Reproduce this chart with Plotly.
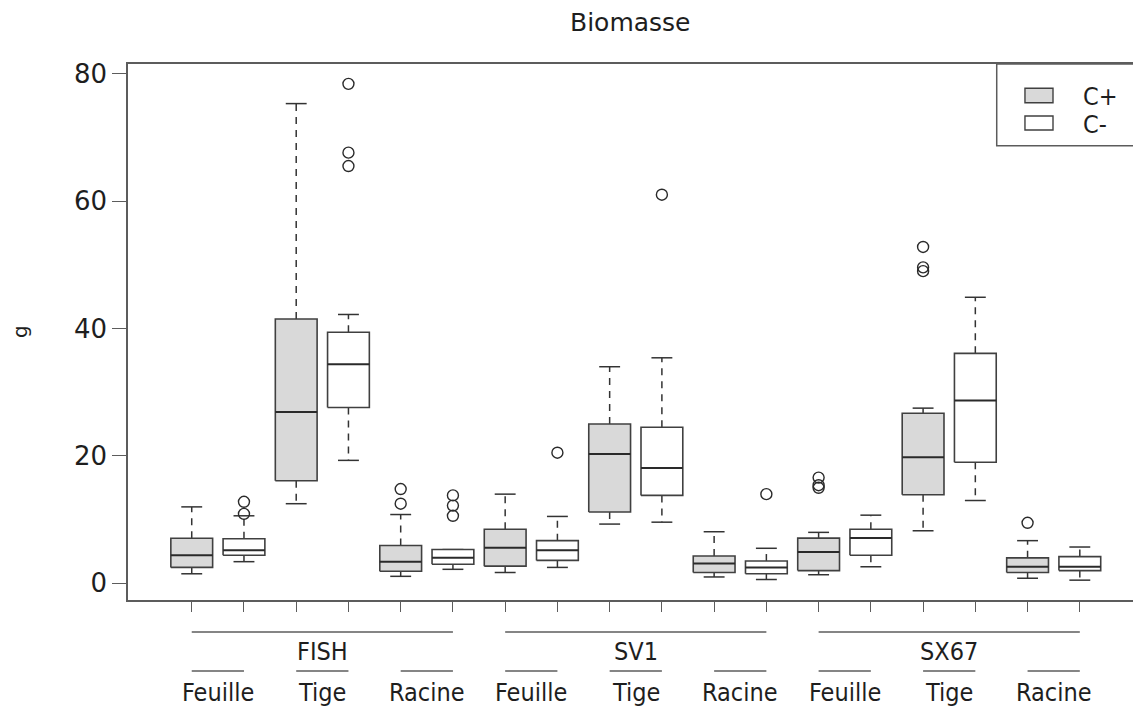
import plotly.graph_objects as go

# Boxplot of biomass (g) by variety, organ and treatment
groups = ["FISH", "SV1", "SX67"]
organs = ["Feuille", "Tige", "Racine"]
treatments = ["C+", "C-"]
treatment_fill = ["#d9d9d9", "#ffffff"]

# Five-number summaries, ordered FISH/Feuille/C+, FISH/Feuille/C-, FISH/Tige/C+, ...
whisker_low = [1.5, 3.4, 12.5, 19.3, 1.1, 2.2,
               1.7, 2.5, 9.3, 9.6, 1.0, 0.6,
               1.35, 2.6, 8.25, 13.0, 0.8, 0.5]
q1 = [2.5, 4.4, 16.1, 27.6, 1.9, 3.0,
      2.7, 3.6, 11.2, 13.8, 1.7, 1.5,
      2.0, 4.4, 13.9, 19.0, 1.7, 2.0]
median = [4.4, 5.2, 26.9, 34.4, 3.4, 4.0,
          5.6, 5.2, 20.3, 18.1, 3.1, 2.5,
          4.9, 7.1, 19.8, 28.7, 2.6, 2.6]
q3 = [7.07, 7.0, 41.5, 39.4, 5.95, 5.3,
      8.5, 6.7, 25.0, 24.5, 4.3, 3.5,
      7.1, 8.5, 26.7, 36.1, 4.0, 4.2]
whisker_high = [12.0, 10.6, 75.3, 42.2, 10.8, 5.3,
                14.0, 10.5, 34.0, 35.4, 8.1, 5.5,
                8.0, 10.7, 27.5, 44.9, 6.7, 5.7]
outliers = [[], [12.8, 10.9], [], [78.4, 67.6, 65.5], [14.8, 12.5], [13.8, 12.2, 10.6],
            [], [20.5], [], [61.0], [], [14.0],
            [16.6, 15.4, 15.0], [], [52.8, 49.6, 49.0], [], [9.5], []]

y_ticks = [0, 20, 40, 60, 80]

n = len(median)
pos = list(range(1, n + 1))
half_box = 0.4
half_staple = 0.2
box_line = "#404040"
frame_line = "#5c5c5c"
text_color = "#1e1e1e"
label_font = "Liberation Sans Narrow, DejaVu Sans Condensed, Arial Narrow, sans-serif"
wide_font = "DejaVu Sans, Verdana, sans-serif"

fig = go.Figure()

# whiskers (dashed) and staples
wx, wy, sx, sy = [], [], [], []
for i in range(n):
    x = pos[i]
    wx += [x, x, None, x, x, None]
    wy += [q3[i], whisker_high[i], None, q1[i], whisker_low[i], None]
    sx += [x - half_staple, x + half_staple, None, x - half_staple, x + half_staple, None]
    sy += [whisker_high[i], whisker_high[i], None, whisker_low[i], whisker_low[i], None]
fig.add_trace(go.Scatter(x=wx, y=wy, mode="lines", showlegend=False, hoverinfo="skip",
                         line=dict(color="#333333", width=1.5, dash="7px,6px")))
fig.add_trace(go.Scatter(x=sx, y=sy, mode="lines", showlegend=False, hoverinfo="skip",
                         line=dict(color="#333333", width=1.5)))

# boxes, one trace per treatment
for t, (name, fill) in enumerate(zip(treatments, treatment_fill)):
    bx, by = [], []
    for i in range(t, n, 2):
        x = pos[i]
        bx += [x - half_box, x + half_box, x + half_box, x - half_box, x - half_box, None]
        by += [q1[i], q1[i], q3[i], q3[i], q1[i], None]
    fig.add_trace(go.Scatter(x=bx, y=by, mode="lines", fill="toself", fillcolor=fill,
                             name=name, showlegend=False, hoverinfo="skip",
                             line=dict(color=box_line, width=1.6)))

# medians
mx, my = [], []
for i in range(n):
    mx += [pos[i] - half_box, pos[i] + half_box, None]
    my += [median[i], median[i], None]
fig.add_trace(go.Scatter(x=mx, y=my, mode="lines", showlegend=False, hoverinfo="skip",
                         line=dict(color="#2a2a2a", width=2.0)))

# outliers
ox, oy = [], []
for i in range(n):
    for v in outliers[i]:
        ox.append(pos[i])
        oy.append(v)
fig.add_trace(go.Scatter(x=ox, y=oy, mode="markers", showlegend=False,
                         marker=dict(symbol="circle-open", size=11, color="#2a2a2a",
                                     line=dict(color="#2a2a2a", width=1.4))))

# axis ranges padded by 4% like the base graphics defaults
all_vals = whisker_low + whisker_high + [v for o in outliers for v in o]
lo, hi = min(all_vals), max(all_vals)
pad = 0.04 * (hi - lo)
x_left = pos[0] - 0.5 - 0.04 * (n)
x_right = x_left + 1005 / 52.24

fig.update_layout(
    width=1133, height=707,
    margin=dict(l=128, r=0, t=64, b=107),
    paper_bgcolor="white", plot_bgcolor="white",
    xaxis=dict(range=[x_left, x_right], tickvals=pos, showticklabels=False,
               ticks="outside", ticklen=10, tickwidth=1.3, tickcolor=frame_line,
               showline=True, linecolor=frame_line, linewidth=1.5, mirror=True,
               showgrid=False, zeroline=False),
    yaxis=dict(range=[lo - pad, hi + pad], tickvals=y_ticks,
               ticks="outside", ticklen=14, tickwidth=1.3, tickcolor=frame_line,
               showline=True, linecolor=frame_line, linewidth=1.5,
               showgrid=False, zeroline=False,
               tickfont=dict(family=wide_font, size=26, color=text_color)),
    showlegend=False,
)

# title and y label
fig.add_annotation(text="Biomasse", xref="paper", yref="paper", x=0.5, y=1,
                   yshift=42, showarrow=False, yanchor="middle",
                   font=dict(family=wide_font, size=25, color=text_color))
fig.add_annotation(text="g", xref="paper", yref="paper", x=0, y=0.5, xshift=-108,
                   textangle=-90, showarrow=False, xanchor="center", yanchor="middle",
                   font=dict(family=wide_font, size=20, color=text_color))

# hierarchical category labels under the x axis
per_group = len(organs) * len(treatments)
for g, gname in enumerate(groups):
    first = pos[g * per_group]
    last = pos[(g + 1) * per_group - 1]
    fig.add_shape(type="line", xref="x", yref="paper", ysizemode="pixel", yanchor=0,
                  x0=first, x1=last, y0=-32, y1=-32,
                  line=dict(color=frame_line, width=1.5))
    fig.add_annotation(text=gname, xref="x", yref="paper", x=(first + last) / 2, y=0,
                       yshift=-51, showarrow=False, yanchor="middle",
                       font=dict(family=label_font, size=25, color=text_color))
    for o, oname in enumerate(organs):
        a = pos[g * per_group + o * len(treatments)]
        b = pos[g * per_group + o * len(treatments) + len(treatments) - 1]
        fig.add_shape(type="line", xref="x", yref="paper", ysizemode="pixel", yanchor=0,
                      x0=a, x1=b, y0=-71, y1=-71,
                      line=dict(color=frame_line, width=1.5))
        fig.add_annotation(text=oname, xref="x", yref="paper", x=(a + b) / 2, y=0,
                           yshift=-92, showarrow=False, yanchor="middle",
                           font=dict(family=label_font, size=25, color=text_color))

# legend box in the top-right corner
fig.add_shape(type="rect", xref="paper", yref="paper", x0=0.8644, x1=1.1, y0=0.8476, y1=1,
              line=dict(color=frame_line, width=1.5), fillcolor="rgba(0,0,0,0)")
swatch_y = [(0.9278, 0.9547), (0.8769, 0.9030)]
text_y = [0.9400, 0.8870]
for t, name in enumerate(treatments):
    fig.add_shape(type="rect", xref="paper", yref="paper", x0=0.8925, x1=0.9204,
                  y0=swatch_y[t][0], y1=swatch_y[t][1],
                  line=dict(color=box_line, width=1.4), fillcolor=treatment_fill[t])
    fig.add_annotation(text=name, xref="paper", yref="paper", x=0.9480, y=text_y[t],
                       xanchor="left", yanchor="middle", showarrow=False,
                       font=dict(family=label_font, size=25, color=text_color))

fig.write_html("out.html")
